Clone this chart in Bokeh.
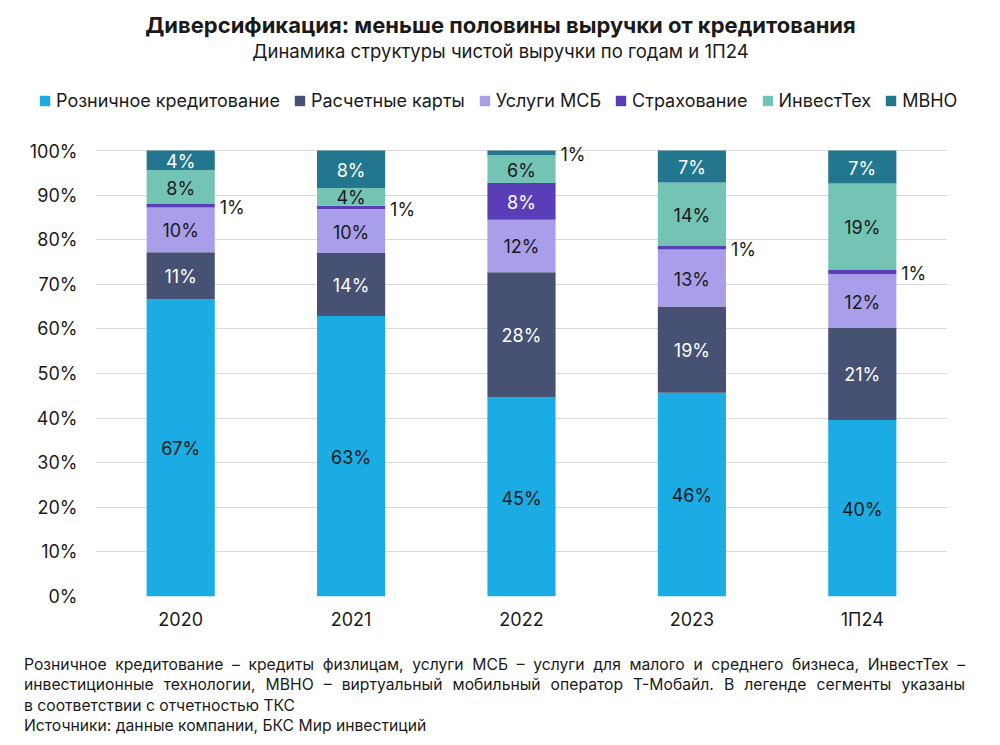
from bokeh.plotting import figure
from bokeh.models import (ColumnDataSource, Legend, LegendItem, Label, FactorRange,
                          PrintfTickFormatter, FixedTicker, Div, Range1d)
from bokeh.layouts import column
from bokeh.embed import file_html
from bokeh.resources import INLINE
from bokeh.core.properties import value

# ---------------- data ----------------
periods = ["2020", "2021", "2022", "2023", "1П24"]
segments = ["Розничное кредитование", "Расчетные карты", "Услуги МСБ",
            "Страхование", "ИнвестТех", "МВНО"]
retail = [66.6, 62.9, 44.6, 45.7, 39.6]
cards = [10.6, 14.1, 28.1, 19.3, 20.6]
smb = [10.0, 9.9, 11.8, 12.8, 12.1]
insurance = [0.8, 0.7, 8.2, 0.8, 1.0]
invest = [7.6, 4.0, 6.3, 14.2, 19.3]
mvno = [4.4, 8.4, 1.0, 7.2, 7.4]
y_ticks = [0, 10, 20, 30, 40, 50, 60, 70, 80, 90, 100]

title_text = "Диверсификация: меньше половины выручки от кредитования"
subtitle_text = "Динамика структуры чистой выручки по годам и 1П24"
foot_lines = [
    "Розничное кредитование – кредиты физлицам, услуги МСБ – услуги для малого и среднего бизнеса, ИнвестТех –",
    "инвестиционные технологии, МВНО – виртуальный мобильный оператор Т-Мобайл. В легенде сегменты указаны",
    "в соответствии с отчетностью ТКС",
]
source_line = "Источники: данные компании, БКС Мир инвестиций"

# ---------------- styles ----------------
colors = ["#1AACE3", "#465173", "#A99EEA", "#5A3EB7", "#74C4B5", "#22778F"]
label_colors = ["#1a1a1a", "#ffffff", "#1a1a1a", "#ffffff", "#1a1a1a", "#ffffff"]
FONT = "Inter"
TXT = "#1a1a1a"
W = 1000

# ---------------- header (titles + legend) ----------------
HH = 140
head = figure(width=W, height=HH, x_range=Range1d(0, W), y_range=Range1d(HH, 0),
              output_backend="svg", toolbar_location=None, title=None,
              x_axis_location=None, y_axis_location=None,
              min_border_left=0, min_border_right=0, min_border_top=0, min_border_bottom=0)
head.outline_line_color = None
head.xgrid.visible = False
head.ygrid.visible = False

head.add_layout(Label(x=W / 2, y=24, text=title_text, text_align="center",
                      text_baseline="middle", text_font=FONT, text_font_size="22px",
                      text_font_style="bold", text_color=TXT))
head.add_layout(Label(x=W / 2, y=50, text=subtitle_text, text_align="center",
                      text_baseline="middle", text_font=FONT, text_font_size="18.5px",
                      text_color=TXT))

# legend proxies (hidden, zero-size) so the legend can live in the header
legend_rs = [head.vbar(x=[0], top=[0], width=0, color=c, line_width=0, visible=False)
             for c in colors]
items = [LegendItem(label=seg, renderers=[r]) for seg, r in zip(segments, legend_rs)]
legend = Legend(items=items, orientation="horizontal", location=(38, HH - 111),
                glyph_width=13, glyph_height=13, label_standoff=5, spacing=13,
                padding=0, margin=0, border_line_color=None, background_fill_alpha=0,
                label_text_font=FONT, label_text_font_size="18px", label_text_color=TXT,
                label_height=20, click_policy="none")
head.add_layout(legend, "center")

# ---------------- main chart ----------------
H = 508
ML, MR, MT, MB = 95, 53, 0, 52
PX_PER_PCT = 4.46
y_top = 100 + (150 - HH) / PX_PER_PCT   # headroom above 100%

p = figure(x_range=FactorRange(*periods, range_padding=0), y_range=Range1d(0, y_top),
           width=W, height=H, output_backend="svg", toolbar_location=None,
           title=None, min_border_left=ML, min_border_right=MR,
           min_border_top=MT, min_border_bottom=MB)
p.outline_line_color = None

keys = ["retail", "cards", "smb", "insurance", "invest", "mvno"]
series = [retail, cards, smb, insurance, invest, mvno]
src = ColumnDataSource(dict(period=periods, **{k: v for k, v in zip(keys, series)}))
rs = p.vbar_stack(keys, x="period", width=0.4, color=colors, line_width=0, source=src)

in_x, in_y, in_t, in_c = [], [], [], []
out_x, out_y, out_t = [], [], []
for i, per in enumerate(periods):
    base = 0.0
    for j, s in enumerate(series):
        v = s[i]
        mid = base + v / 2
        txt = f"{round(v):.0f}%"
        if v < 2:
            out_x.append(per); out_y.append(mid); out_t.append(txt)
        else:
            in_x.append(per); in_y.append(mid); in_t.append(txt); in_c.append(label_colors[j])
        base += v

p.text(x=in_x, y=in_y, text=in_t, text_color=in_c, text_align="center",
       text_baseline="middle", text_font=value(FONT), text_font_size="18px", y_offset=1)
p.text(x=out_x, y=out_y, text=out_t, text_color=TXT, text_align="left",
       text_baseline="middle", text_font=value(FONT), text_font_size="18px",
       x_offset=39, y_offset=2)

p.ygrid.grid_line_color = "#d9d9d9"
p.ygrid.grid_line_width = 1
p.xgrid.grid_line_color = None
p.yaxis.ticker = FixedTicker(ticks=y_ticks)
p.yaxis.formatter = PrintfTickFormatter(format="%d%%")
for ax in (p.xaxis, p.yaxis):
    ax.axis_line_color = None
    ax.major_tick_line_color = None
    ax.minor_tick_line_color = None
    ax.major_tick_out = 0
    ax.major_tick_in = 0
    ax.major_label_text_font = FONT
    ax.major_label_text_font_size = "18px"
    ax.major_label_text_color = TXT
p.yaxis.major_label_standoff = 18
p.xaxis.major_label_standoff = 12

# ---------------- footnote ----------------
inner = "".join(
    f'<div style="text-align:justify;text-align-last:justify;">{l}</div>' for l in foot_lines[:2]
) + f"<div>{foot_lines[2]}</div><div>{source_line}</div>"
html = (f'<div style="width:941px;margin-left:24px;padding-top:7px;font-family:Inter;'
        f'font-size:15.7px;line-height:20.3px;color:{TXT};">{inner}</div>')
div = Div(text=html, width=990, height=92, margin=0)

# header in its own sub-column so its frame is not aligned to the chart's frame
layout = column(column(head), p, div, spacing=0)
open("out.html", "w").write(file_html(layout, INLINE))
